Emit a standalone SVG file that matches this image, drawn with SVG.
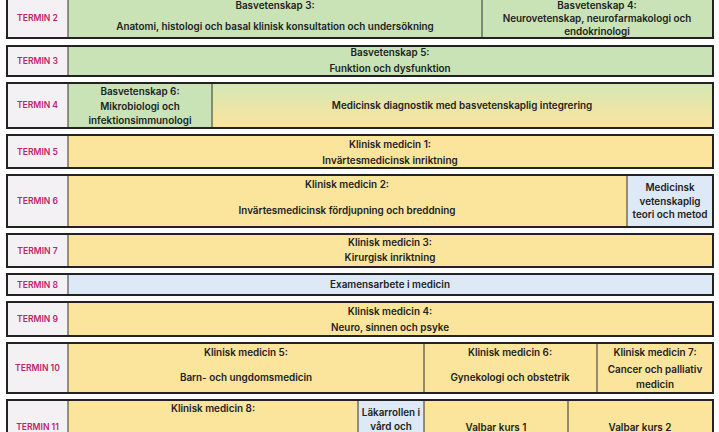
<svg xmlns="http://www.w3.org/2000/svg" width="719" height="432" viewBox="0 0 719 432">
<defs>
<linearGradient id="gy" x1="0" y1="0" x2="0" y2="1">
<stop offset="0" stop-color="#d3e7b6"/>
<stop offset="1" stop-color="#fde49b"/>
</linearGradient>
</defs>
<style>
.bg{fill:#ffffff}
.lab{fill:#f3f1f4}
.g{fill:#c9e3b7}
.y{fill:#fbe59c}
.b{fill:#dde9f6}
.gr{fill:url(#gy)}
.frame{fill:none;stroke:#222;stroke-width:2}
.div{stroke:#333;stroke-width:1}
text{font-family:Inter,"Open Sans","Liberation Sans",sans-serif;font-weight:600;font-size:9.9px;fill:#222;text-anchor:middle}
text.t{fill:#c0246b;font-size:8.6px}
</style>
<rect class="bg" x="0" y="0" width="719" height="432"/>

<g id="termin2">
<rect class="lab" x="7" y="-4" width="61" height="42"/>
<rect class="g" x="68" y="-4" width="414" height="42"/>
<rect class="g" x="482" y="-4" width="231" height="42"/>
<line class="div" x1="68" y1="-4" x2="68" y2="38"/>
<line class="div" x1="482" y1="-4" x2="482" y2="38"/>
<rect class="frame" x="7" y="-4" width="706" height="42"/>
<text class="t" x="37.5" y="21">TERMIN 2</text>
<text x="275" y="9">Basvetenskap 3:</text>
<text x="275" y="30">Anatomi, histologi och basal klinisk konsultation och undersökning</text>
<text x="597" y="9">Basvetenskap 4:</text>
<text x="597" y="21.5">Neurovetenskap, neurofarmakologi och</text>
<text x="597" y="35">endokrinologi</text>
</g>

<g id="termin3">
<rect class="lab" x="7" y="46" width="61" height="30"/>
<rect class="g" x="68" y="46" width="645" height="30"/>
<line class="div" x1="68" y1="46" x2="68" y2="76"/>
<rect class="frame" x="7" y="46" width="706" height="30"/>
<text class="t" x="37.5" y="64">TERMIN 3</text>
<text x="390" y="55.5">Basvetenskap 5:</text>
<text x="390" y="71.5">Funktion och dysfunktion</text>
</g>

<g id="termin4">
<rect class="lab" x="7" y="83" width="61" height="45"/>
<rect class="g" x="68" y="83" width="144" height="45"/>
<rect class="gr" x="212" y="83" width="501" height="45"/>
<line class="div" x1="68" y1="83" x2="68" y2="128"/>
<line class="div" x1="212" y1="83" x2="212" y2="128"/>
<rect class="frame" x="7" y="83" width="706" height="45"/>
<text class="t" x="37.5" y="108">TERMIN 4</text>
<text x="140" y="95">Basvetenskap 6:</text>
<text x="140" y="110">Mikrobiologi och</text>
<text x="140" y="124">infektionsimmunologi</text>
<text x="462" y="108.5">Medicinsk diagnostik med basvetenskaplig integrering</text>
</g>

<g id="termin5">
<rect class="lab" x="7" y="135" width="61" height="33"/>
<rect class="y" x="68" y="135" width="645" height="33"/>
<line class="div" x1="68" y1="135" x2="68" y2="168"/>
<rect class="frame" x="7" y="135" width="706" height="33"/>
<text class="t" x="37.5" y="154.5">TERMIN 5</text>
<text x="390" y="147.5">Klinisk medicin 1:</text>
<text x="390" y="164">Invärtesmedicinsk inriktning</text>
</g>

<g id="termin6">
<rect class="lab" x="7" y="175" width="61" height="52"/>
<rect class="y" x="68" y="175" width="559" height="52"/>
<rect class="b" x="627" y="175" width="86" height="52"/>
<line class="div" x1="68" y1="175" x2="68" y2="227"/>
<line class="div" x1="627" y1="175" x2="627" y2="227"/>
<rect class="frame" x="7" y="175" width="706" height="52"/>
<text class="t" x="37.5" y="204">TERMIN 6</text>
<text x="347" y="188">Klinisk medicin 2:</text>
<text x="347" y="214">Invärtesmedicinsk fördjupning och breddning</text>
<text x="670" y="191">Medicinsk</text>
<text x="670" y="205">vetenskaplig</text>
<text x="670" y="218">teori och metod</text>
</g>

<g id="termin7">
<rect class="lab" x="7" y="234" width="61" height="33"/>
<rect class="y" x="68" y="234" width="645" height="33"/>
<line class="div" x1="68" y1="234" x2="68" y2="267"/>
<rect class="frame" x="7" y="234" width="706" height="33"/>
<text class="t" x="37.5" y="253.5">TERMIN 7</text>
<text x="390" y="245.5">Klinisk medicin 3:</text>
<text x="390" y="261">Kirurgisk inriktning</text>
</g>

<g id="termin8">
<rect class="lab" x="7" y="274" width="61" height="21"/>
<rect class="b" x="68" y="274" width="645" height="21"/>
<line class="div" x1="68" y1="274" x2="68" y2="295"/>
<rect class="frame" x="7" y="274" width="706" height="21"/>
<text class="t" x="37.5" y="287.5">TERMIN 8</text>
<text x="390" y="288">Examensarbete i medicin</text>
</g>

<g id="termin9">
<rect class="lab" x="7" y="302" width="61" height="34"/>
<rect class="y" x="68" y="302" width="645" height="34"/>
<line class="div" x1="68" y1="302" x2="68" y2="336"/>
<rect class="frame" x="7" y="302" width="706" height="34"/>
<text class="t" x="37.5" y="322">TERMIN 9</text>
<text x="390" y="315">Klinisk medicin 4:</text>
<text x="390" y="331">Neuro, sinnen och psyke</text>
</g>

<g id="termin10">
<rect class="lab" x="7" y="343" width="61" height="50"/>
<rect class="y" x="68" y="343" width="356" height="50"/>
<rect class="y" x="424" y="343" width="173" height="50"/>
<rect class="y" x="597" y="343" width="116" height="50"/>
<line class="div" x1="68" y1="343" x2="68" y2="393"/>
<line class="div" x1="424" y1="343" x2="424" y2="393"/>
<line class="div" x1="597" y1="343" x2="597" y2="393"/>
<rect class="frame" x="7" y="343" width="706" height="50"/>
<text class="t" x="37.5" y="371">TERMIN 10</text>
<text x="246" y="355.5">Klinisk medicin 5:</text>
<text x="246" y="381">Barn- och ungdomsmedicin</text>
<text x="510" y="355.5">Klinisk medicin 6:</text>
<text x="510" y="381">Gynekologi och obstetrik</text>
<text x="655" y="355.5">Klinisk medicin 7:</text>
<text x="655" y="373">Cancer och palliativ</text>
<text x="655" y="387.5">medicin</text>
</g>

<g id="termin11">
<rect class="lab" x="7" y="400" width="61" height="54"/>
<rect class="y" x="68" y="400" width="290" height="54"/>
<rect class="b" x="358" y="400" width="66" height="54"/>
<rect class="y" x="424" y="400" width="144" height="54"/>
<rect class="y" x="568" y="400" width="145" height="54"/>
<line class="div" x1="68" y1="400" x2="68" y2="454"/>
<line class="div" x1="358" y1="400" x2="358" y2="454"/>
<line class="div" x1="424" y1="400" x2="424" y2="454"/>
<line class="div" x1="568" y1="400" x2="568" y2="454"/>
<rect class="frame" x="7" y="400" width="706" height="54"/>
<text class="t" x="37.5" y="430">TERMIN 11</text>
<text x="213" y="411.5">Klinisk medicin 8:</text>
<text x="391" y="415.5">Läkarrollen i</text>
<text x="391" y="430">vård och</text>
<text x="496" y="431">Valbar kurs 1</text>
<text x="640" y="431">Valbar kurs 2</text>
</g>
</svg>
